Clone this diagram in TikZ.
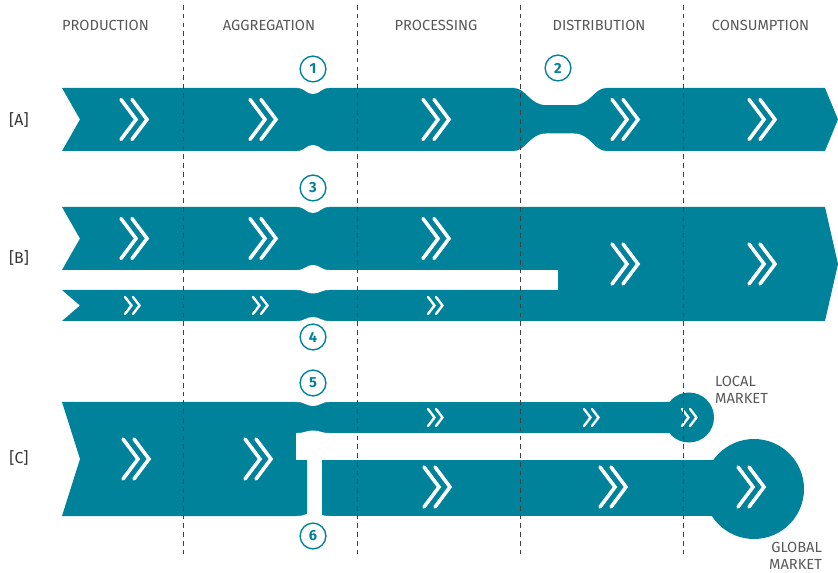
\documentclass[tikz,border=0pt]{standalone}
\usepackage{fontspec}
\setmainfont{Fira Sans}
\definecolor{flowteal}{HTML}{00829B}
\definecolor{stagegray}{HTML}{585858}
\tikzset{
    band/.style={fill=flowteal},
    gap/.style={fill=white},
    chev/.style={draw=white, line width=3pt, line cap=round},
    chevsmall/.style={draw=white, line width=2pt, line cap=round},
    stage/.style={text=stagegray, font=\fontsize{12.5}{14.5}\selectfont},
    rowlabel/.style={text=black!80, font=\fontsize{13.5}{15}\selectfont},
    marker/.style={circle, draw=flowteal, line width=1.2pt, text=flowteal,
        font=\fontsize{12.5}{14}\bfseries, minimum size=22pt, inner sep=0pt},
    divider/.style={draw=black!75, line width=0.8pt, dash pattern=on 4pt off 3.5pt}
}
\begin{document}
\begin{tikzpicture}[x=0.03cm, y=-0.03cm]
\useasboundingbox (0,0) rectangle (838,573);

% row A
\fill[band] (62,88) -- (825,88) -- (838,119.5) -- (825,151) -- (62,151) -- (80,119.5) -- cycle;
\fill[gap] (514,87) -- (514,88) .. controls (526,88) and (530,105) .. (546,105) -- (574,105)
    .. controls (590,105) and (594,88) .. (606,88) -- (606,87) -- cycle;
\fill[gap] (514,152) -- (514,151) .. controls (526,151) and (530,133.5) .. (546,133.5) -- (574,133.5)
    .. controls (590,133.5) and (594,151) .. (606,151) -- (606,152) -- cycle;

% row B
\fill[band] (62,207) -- (825,207) -- (838,264) -- (825,321) -- (62,321) -- (80,305.5) -- (62,290)
    -- (558,290) -- (558,270) -- (62,270) -- (80,238.5) -- cycle;

% row C
\fill[band] (62,402) -- (307,402) -- (307,516) -- (62,516) -- (80,459) -- cycle;
\fill[band] (296,402) rectangle (689,433);
\fill[band] (322,460) rectangle (754,516);
\fill[band] (689,417.5) circle [radius=25];
\fill[band] (754,489) circle [radius=50];
\fill[gap] (296,433) rectangle (322,460);

% pinches
\foreach \yy/\d in {88/6, 151/-6, 207/6, 270/-5, 290/3.5, 321/-4, 402/4, 433/-2.5, 516/-3}{
    \fill[gap] (297,\yy-0.25*\d) -- (297,\yy) .. controls (305,\yy) and (306,\yy+\d) .. (313,\yy+\d)
        .. controls (320,\yy+\d) and (321,\yy) .. (329,\yy) -- (329,\yy-0.25*\d) -- cycle;
}

% chevrons
\foreach \x/\y in {121/119.5, 250/119.5, 423/119.5, 612/119.5, 749/119.5,
                   121/238.5, 250/238.5, 423/238.5, 612/264, 749/264,
                   123/459, 245/459, 424/487, 600/487, 738/487}{
    \draw[chev] (\x,\y-20) -- (\x+15,\y) -- (\x,\y+20) (\x+11,\y-20) -- (\x+26,\y) -- (\x+11,\y+20);
}
\foreach \x/\y in {125/305.5, 253/305.5, 428/305.5, 428/417.5, 584/417.5, 682/417.5}{
    \draw[chevsmall] (\x,\y-8.5) -- (\x+6.5,\y) -- (\x,\y+8.5) (\x+8,\y-8.5) -- (\x+14.5,\y) -- (\x+8,\y+8.5);
}

% stage borders
\foreach \x in {183, 357, 520, 683}{
    \draw[divider] (\x,5) -- (\x,555);
}

% stage names
\foreach \name/\x [count=\i] in {PRODUCTION/105.5, AGGREGATION/269, PROCESSING/436,
                                 DISTRIBUTION/599, CONSUMPTION/760.5}{
    \node[stage] (stage\i) at (\x,25) {\name};
}

\foreach \name/\y in {A/119.5, B/258, C/458}{
    \node[rowlabel] (row\name) at (19,\y) {[\name]};
}

\foreach \n/\x/\y in {1/313/69, 2/558/68, 3/313/188, 4/313/337, 5/313/383, 6/313/536}{
    \node[marker] (mark\n) at (\x,\y) {\n};
}

\node[stage, align=left, anchor=north west] (local) at (711,372) {LOCAL\\MARKET};
\node[stage, align=right, anchor=north east] (global) at (826,538) {GLOBAL\\MARKET};

\end{tikzpicture}
\end{document}
